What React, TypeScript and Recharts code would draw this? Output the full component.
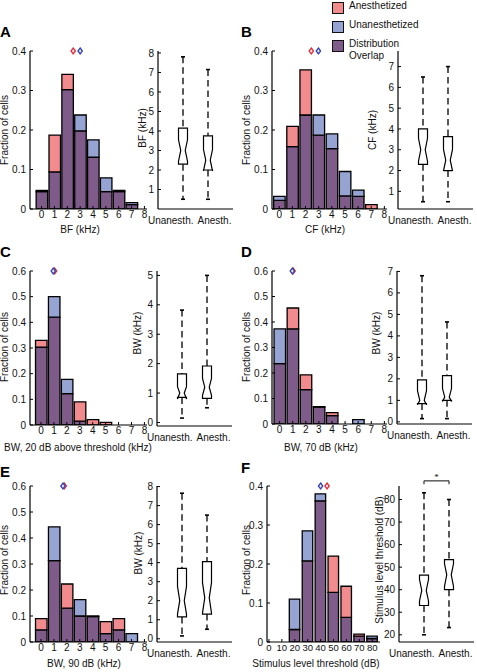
import React from 'react';
import { ComposedChart, Bar, Cell, XAxis, YAxis, ReferenceLine, ReferenceDot } from 'recharts';

const RED = '#F28B8D';
const BLUE = '#96A4D3';
const PURPLE = '#7E5B88';
const INK = '#111';
const FONT = '"Liberation Sans", Arial, Helvetica, sans-serif';

// histogram bins and ticks
const khzBins = [0, 1, 2, 3, 4, 5, 6, 7, 8];
const khzTicks = [0, 1, 2, 3, 4, 5, 6, 7, 8];
const thrBins = [20, 30, 40, 50, 60, 70, 80];
const thrTicks = [0, 10, 20, 30, 40, 50, 60, 70, 80];
const frac04Ticks = [0, 0.1, 0.2, 0.3, 0.4];
const frac06Ticks = [0, 0.1, 0.2, 0.3, 0.4, 0.5, 0.6];

// A: best frequency
const bfAnesth = [0.047, 0.187, 0.341, 0.198, 0.131, 0.044, 0.047, 0.011, 0];
const bfUnanesth = [0.044, 0.094, 0.302, 0.238, 0.175, 0.079, 0.044, 0.016, 0];
const bfMedians = [2.46, 3.0]; // anesthetized, unanesthetized
// B: characteristic frequency
const cfAnesth = [0.022, 0.209, 0.352, 0.187, 0.153, 0.033, 0.032, 0.011, 0];
const cfUnanesth = [0.032, 0.158, 0.238, 0.238, 0.19, 0.095, 0.048, 0, 0];
const cfMedians = [2.44, 2.98];
// C: bandwidth 20 dB above threshold
const bw20Anesth = [0.33, 0.42, 0.122, 0.09, 0.021, 0.01, 0, 0, 0];
const bw20Unanesth = [0.303, 0.5, 0.178, 0.015, 0, 0, 0, 0, 0];
const bw20Medians = [1.05, 0.95];
// D: bandwidth 70 dB
const bw70Anesth = [0.237, 0.455, 0.193, 0.068, 0.045, 0, 0, 0, 0];
const bw70Unanesth = [0.373, 0.373, 0.135, 0.066, 0.033, 0, 0.017, 0, 0];
const bw70Medians = [1.03, 0.97];
// E: bandwidth 90 dB
const bw90Anesth = [0.09, 0.313, 0.223, 0.1, 0.1, 0.078, 0.09, 0, 0];
const bw90Unanesth = [0.047, 0.443, 0.13, 0.163, 0.098, 0.032, 0.047, 0.032, 0];
const bw90Medians = [1.8, 1.7];
// F: stimulus level threshold
const thrAnesth = [0.032, 0.208, 0.362, 0.22, 0.143, 0.02, 0.009];
const thrUnanesth = [0.11, 0.285, 0.38, 0.127, 0.063, 0.015, 0.015];
const thrMedians = [45, 40];

// box plots: [min, q1, median, q3, max] and notch [low, high]
const boxLabels = ['Unanesth.', 'Anesth.'];
const bfBoxU = [0.5, 2.3, 3.0, 4.15, 7.8];
const bfNotchU = [2.45, 3.55];
const bfBoxA = [0.5, 2.0, 2.5, 3.75, 7.15];
const bfNotchA = [1.95, 3.05];
const cfBoxU = [0.5, 2.3, 3.0, 4.0, 6.5];
const cfNotchU = [2.45, 3.55];
const cfBoxA = [0.5, 2.0, 2.5, 3.63, 7.0];
const cfNotchA = [1.98, 3.02];
const bw20BoxU = [0.15, 0.85, 1.0, 1.65, 3.82];
const bw20NotchU = [0.8, 1.22];
const bw20BoxA = [0.5, 0.82, 1.2, 1.92, 5.0];
const bw20NotchA = [0.92, 1.5];
const bw70BoxU = [0.15, 0.85, 1.0, 1.95, 6.8];
const bw70NotchU = [0.8, 1.45];
const bw70BoxA = [0.15, 1.0, 1.15, 2.15, 4.65];
const bw70NotchA = [0.95, 1.55];
const bw90BoxU = [0.15, 1.15, 2.0, 3.7, 7.65];
const bw90NotchU = [1.3, 2.75];
const bw90BoxA = [0.5, 1.3, 2.15, 4.05, 6.5];
const bw90NotchA = [1.35, 2.95];
const thrBoxU = [20, 33, 39.7, 46.5, 83];
const thrNotchU = [35, 44.5];
const thrBoxA = [23.2, 40, 46.6, 53.3, 80];
const thrNotchA = [41.5, 51.5];

const tickStyle = { fontSize: 10, fill: INK, fontFamily: FONT };
const axisLine = { stroke: '#000', strokeWidth: 1.2 };

const fmtFrac = (v: number) => (v === 0 ? '0' : v.toFixed(1));

const diamond = (color: string) => (props: any) => {
  const { cx, cy } = props;
  return (
    <path
      d={`M${cx},${cy - 3} L${cx + 2.2},${cy} L${cx},${cy + 3} L${cx - 2.2},${cy} Z`}
      fill="#fbe9ee"
      stroke={color}
      strokeWidth={1.3}
    />
  );
};

type HistProps = {
  left: number; top: number; width: number; height: number;
  bins: number[]; anesth: number[]; unanesth: number[]; medians: number[];
  xDomain: [number, number]; xTicks: number[]; yMax: number; yTicks: number[];
  barSize: number; xFont?: number;
};

function Histogram(p: HistProps) {
  const YW = 34, XH = 20, MT = 6, MR = 4;
  const data = p.bins.map((b, i) => ({
    bin: b,
    overlap: Math.min(p.anesth[i], p.unanesth[i]),
    extra: Math.abs(p.anesth[i] - p.unanesth[i]),
    anesthHigher: p.anesth[i] > p.unanesth[i],
  }));
  return (
    <div style={{ position: 'absolute', left: p.left - YW, top: p.top - MT }}>
      <ComposedChart
        width={YW + p.width + MR}
        height={MT + p.height + XH}
        data={data}
        margin={{ top: MT, right: MR, left: 0, bottom: 0 }}
      >
        <XAxis
          dataKey="bin" type="number" domain={p.xDomain} ticks={p.xTicks} interval={0}
          allowDataOverflow height={XH} tickSize={-3} tickMargin={5}
          axisLine={axisLine} tickLine={{ stroke: '#000' }}
          tick={{ ...tickStyle, fontSize: p.xFont ?? 10 }}
        />
        <YAxis
          type="number" domain={[0, p.yMax]} ticks={p.yTicks} interval={0} allowDataOverflow
          width={YW} tickSize={-3} tickMargin={7} tickFormatter={fmtFrac}
          axisLine={axisLine} tickLine={{ stroke: '#000' }} tick={tickStyle}
        />
        <Bar dataKey="overlap" stackId="h" fill={PURPLE} stroke="#000" strokeWidth={1.3}
          barSize={p.barSize} isAnimationActive={false} />
        <Bar dataKey="extra" stackId="h" stroke="#000" strokeWidth={1.3}
          barSize={p.barSize} isAnimationActive={false}>
          {data.map((d, i) => (
            <Cell key={i} fill={d.anesthHigher ? RED : BLUE} />
          ))}
        </Bar>
        <ReferenceDot x={p.medians[0]} y={p.yMax} ifOverflow="visible" shape={diamond('#e0303a')} />
        <ReferenceDot x={p.medians[1]} y={p.yMax} ifOverflow="visible" shape={diamond('#3045b0')} />
      </ComposedChart>
    </div>
  );
}

const BoxShape = (props: any) => {
  const { x, y, width, height, payload } = props;
  const [mn, q1, med, q3, mx] = payload.stats;
  const [nLo, nHi] = payload.notch;
  const top = Math.min(y, y + height);
  const bot = Math.max(y, y + height);
  const py = (v: number) => bot - ((v - mn) / (mx - mn)) * (bot - top);
  const cx = x + width / 2;
  const hw = width / 2;
  const qw = width / 4;
  const pts = [
    [cx - hw, py(q3)], [cx - hw, py(nHi)], [cx - qw, py(med)], [cx - hw, py(nLo)], [cx - hw, py(q1)],
    [cx + hw, py(q1)], [cx + hw, py(nLo)], [cx + qw, py(med)], [cx + hw, py(nHi)], [cx + hw, py(q3)],
  ].map((pt) => pt.join(',')).join(' ');
  return (
    <g>
      <line x1={cx} x2={cx} y1={py(mx)} y2={py(q3)} stroke="#222" strokeWidth={1.5} strokeDasharray="6.5 4" />
      <line x1={cx} x2={cx} y1={py(q1)} y2={py(mn)} stroke="#222" strokeWidth={1.5} strokeDasharray="6.5 4" />
      <line x1={cx - 2} x2={cx + 2} y1={py(mx)} y2={py(mx)} stroke="#000" strokeWidth={1.6} />
      <line x1={cx - 2} x2={cx + 2} y1={py(mn)} y2={py(mn)} stroke="#000" strokeWidth={1.6} />
      <polygon points={pts} fill="#fff" stroke="#000" strokeWidth={1.2} />
    </g>
  );
};

const BoxTick = (props: any) => {
  const { x, y, payload } = props;
  const first = payload.value === 1;
  return (
    <text x={first ? x + 10.5 : x - 10.5} y={y} dy="0.71em" textAnchor={first ? 'end' : 'start'}
      fontSize={10} fontFamily={FONT} fill={INK}>
      {boxLabels[payload.value - 1]}
    </text>
  );
};

type BoxProps = {
  left: number; top: number; width: number; height: number;
  u: number[]; nu: number[]; a: number[]; na: number[];
  yDomain: [number, number]; yTicks: number[]; signif?: boolean;
};

function BoxPlot(p: BoxProps) {
  const YW = 30, XH = 20, MT = 16, MR = 4;
  const data = [
    { pos: 1, range: [p.u[0], p.u[4]], stats: p.u, notch: p.nu },
    { pos: 2, range: [p.a[0], p.a[4]], stats: p.a, notch: p.na },
  ];
  const span = p.yDomain[1] - p.yDomain[0];
  const yBar = p.yDomain[1] + span * 0.033;
  const yEnd = p.yDomain[1] + span * 0.012;
  return (
    <div style={{ position: 'absolute', left: p.left - YW, top: p.top - MT }}>
      <ComposedChart
        width={YW + p.width + MR}
        height={MT + p.height + XH}
        data={data}
        margin={{ top: MT, right: MR, left: 0, bottom: 0 }}
      >
        <XAxis dataKey="pos" type="number" domain={[0, 3]} ticks={[1, 2]} interval={0}
          allowDataOverflow height={XH} tickLine={false} tickMargin={2}
          axisLine={axisLine} tick={<BoxTick />} />
        <YAxis type="number" domain={p.yDomain} ticks={p.yTicks} interval={0} allowDataOverflow
          width={YW} tickSize={-3} tickMargin={7}
          axisLine={axisLine} tickLine={{ stroke: '#000' }} tick={tickStyle} />
        <Bar dataKey="range" barSize={9} shape={<BoxShape />} isAnimationActive={false} />
        {p.signif && (
          <ReferenceLine segment={[{ x: 1, y: yBar }, { x: 2, y: yBar }]} ifOverflow="visible"
            stroke="#333" strokeWidth={1.2}
            label={{ value: '*', position: 'top', fontSize: 9, fill: INK, offset: 1 }} />
        )}
        {p.signif && (
          <ReferenceLine segment={[{ x: 1, y: yEnd }, { x: 1, y: yBar }]} ifOverflow="visible"
            stroke="#333" strokeWidth={1.2} />
        )}
        {p.signif && (
          <ReferenceLine segment={[{ x: 2, y: yEnd }, { x: 2, y: yBar }]} ifOverflow="visible"
            stroke="#333" strokeWidth={1.2} />
        )}
      </ComposedChart>
    </div>
  );
}

const Txt = ({ x, y, children, rotate, size = 10 }: any) => (
  <div
    style={{
      position: 'absolute', left: x, top: y, whiteSpace: 'nowrap', fontSize: size,
      fontFamily: FONT, color: INK, lineHeight: 1,
      transform: `translate(-50%, -50%)${rotate ? ' rotate(-90deg)' : ''}`,
    }}
  >
    {children}
  </div>
);

const Letter = ({ x, y, children }: any) => (
  <div style={{ position: 'absolute', left: x, top: y, fontSize: 15, fontWeight: 'bold', fontFamily: FONT, lineHeight: 1, color: '#000' }}>
    {children}
  </div>
);

const LegendItem = ({ y, color, lines }: any) => (
  <>
    <div style={{ position: 'absolute', left: 332, top: y, width: 10, height: 10, background: color, border: '1.5px solid #111' }} />
    {lines.map((l: string, i: number) => (
      <div key={l} style={{ position: 'absolute', left: 349, top: y - 1 + i * 12, fontSize: 10, fontFamily: FONT, color: INK, lineHeight: 1 }}>
        {l}
      </div>
    ))}
  </>
);

export default function App() {
  return (
    <div style={{ position: 'absolute', left: 0, top: 0, width: 477, height: 672, background: '#fff', overflow: 'hidden' }}>
      <Letter x={0} y={24}>A</Letter>
      <Letter x={241} y={24}>B</Letter>
      <Letter x={0} y={244}>C</Letter>
      <Letter x={241} y={244}>D</Letter>
      <Letter x={0} y={464}>E</Letter>
      <Letter x={241} y={460}>F</Letter>

      <LegendItem y={2} color={RED} lines={['Anesthetized']} />
      <LegendItem y={21} color={BLUE} lines={['Unanesthetized']} />
      <LegendItem y={40} color={PURPLE} lines={['Distribution', 'Overlap']} />

      <Histogram left={30} top={51} width={117} height={158} bins={khzBins} anesth={bfAnesth} unanesth={bfUnanesth}
        medians={bfMedians} xDomain={[-0.9, 8.2]} xTicks={khzTicks} yMax={0.4} yTicks={frac04Ticks} barSize={11.5} />
      <BoxPlot left={158} top={51} width={75} height={158} u={bfBoxU} nu={bfNotchU} a={bfBoxA} na={bfNotchA}
        yDomain={[0, 8.1]} yTicks={[1, 2, 3, 4, 5, 6, 7, 8]} />
      <Histogram left={272} top={51} width={115} height={158} bins={khzBins} anesth={cfAnesth} unanesth={cfUnanesth}
        medians={cfMedians} xDomain={[-0.55, 8.2]} xTicks={khzTicks} yMax={0.4} yTicks={frac04Ticks} barSize={11.5} />
      <BoxPlot left={398} top={51} width={75} height={158} u={cfBoxU} nu={cfNotchU} a={cfBoxA} na={cfNotchA}
        yDomain={[0.15, 7.75]} yTicks={[1, 2, 3, 4, 5, 6, 7]} />

      <Histogram left={30} top={271} width={117} height={154} bins={khzBins} anesth={bw20Anesth} unanesth={bw20Unanesth}
        medians={bw20Medians} xDomain={[-0.85, 8.2]} xTicks={khzTicks} yMax={0.6} yTicks={frac06Ticks} barSize={11.5} />
      <BoxPlot left={157} top={271} width={75} height={155} u={bw20BoxU} nu={bw20NotchU} a={bw20BoxA} na={bw20NotchA}
        yDomain={[-0.12, 5.15]} yTicks={[0, 1, 2, 3, 4, 5]} />
      <Histogram left={272} top={271} width={115} height={153} bins={khzBins} anesth={bw70Anesth} unanesth={bw70Unanesth}
        medians={bw70Medians} xDomain={[-0.58, 8.2]} xTicks={khzTicks} yMax={0.6} yTicks={frac06Ticks} barSize={11.5} />
      <BoxPlot left={397} top={271} width={75} height={153} u={bw70BoxU} nu={bw70NotchU} a={bw70BoxA} na={bw70NotchA}
        yDomain={[-0.1, 7.02]} yTicks={[0, 1, 2, 3, 4, 5, 6, 7]} />

      <Histogram left={30} top={486} width={117} height={156} bins={khzBins} anesth={bw90Anesth} unanesth={bw90Unanesth}
        medians={bw90Medians} xDomain={[-0.85, 8.2]} xTicks={khzTicks} yMax={0.6} yTicks={frac06Ticks} barSize={11.5} />
      <BoxPlot left={157} top={486} width={75} height={156} u={bw90BoxU} nu={bw90NotchU} a={bw90BoxA} na={bw90NotchA}
        yDomain={[-0.17, 8.03]} yTicks={[0, 1, 2, 3, 4, 5, 6, 7, 8]} />
      <Histogram left={267} top={486} width={113} height={156} bins={thrBins} anesth={thrAnesth} unanesth={thrUnanesth}
        medians={thrMedians} xDomain={[-1.5, 86]} xTicks={thrTicks} yMax={0.4} yTicks={frac04Ticks} barSize={10.5} xFont={9.5} />
      <BoxPlot left={399} top={486} width={75} height={156} u={thrBoxU} nu={thrNotchU} a={thrBoxA} na={thrNotchA}
        yDomain={[16.8, 86]} yTicks={[20, 30, 40, 50, 60, 70, 80]} signif />

      <Txt x={5} y={130} rotate>Fraction of cells</Txt>
      <Txt x={143} y={128} rotate>BF (kHz)</Txt>
      <Txt x={80} y={230}>BF (kHz)</Txt>
      <Txt x={247} y={130} rotate>Fraction of cells</Txt>
      <Txt x={373} y={130} rotate>CF (kHz)</Txt>
      <Txt x={325} y={230}>CF (kHz)</Txt>

      <Txt x={5} y={347} rotate>Fraction of cells</Txt>
      <Txt x={138} y={333} rotate>BW (kHz)</Txt>
      <Txt x={78} y={448}>BW, 20 dB above threshold (kHz)</Txt>
      <Txt x={247} y={347} rotate>Fraction of cells</Txt>
      <Txt x={377} y={333} rotate>BW (kHz)</Txt>
      <Txt x={321} y={448}>BW, 70 dB (kHz)</Txt>

      <Txt x={5} y={560} rotate>Fraction of cells</Txt>
      <Txt x={139} y={553} rotate>BW (kHz)</Txt>
      <Txt x={84} y={664}>BW, 90 dB (kHz)</Txt>
      <Txt x={247} y={560} rotate>Fraction of cells</Txt>
      <Txt x={380} y={560} rotate>Stimulus level threshold (dB)</Txt>
      <Txt x={316} y={664}>Stimulus level threshold (dB)</Txt>
    </div>
  );
}
